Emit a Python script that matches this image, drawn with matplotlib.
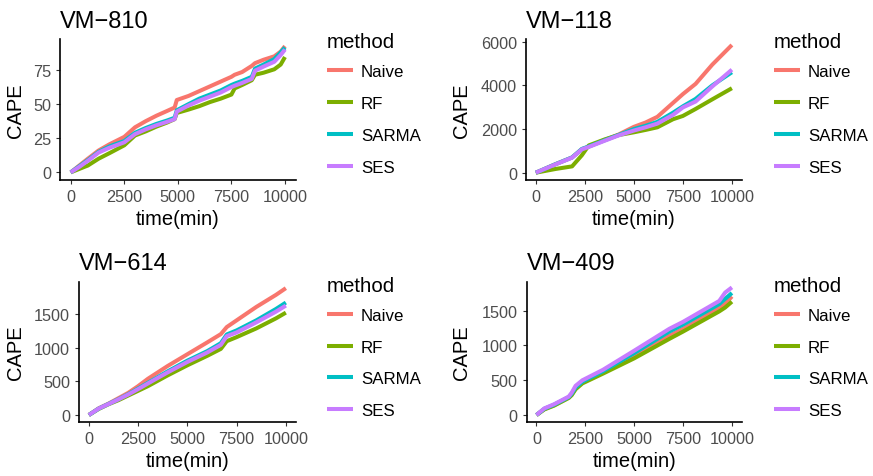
import numpy as np
import matplotlib.pyplot as plt

plt.rcParams['font.family'] = ['Liberation Sans', 'DejaVu Sans']

# ---- data ----
methods = ['Naive', 'RF', 'SARMA', 'SES']
colors = ['#F8766D', '#7CAE00', '#00BFC4', '#C77CFF']
time_ticks = [0, 2500, 5000, 7500, 10000]

# VM-810
t_810 = [0, 400, 800, 1300, 1800, 2500, 3000, 3500, 4000, 4500, 4850, 4950, 5500,
         6000, 6500, 7000, 7500, 7650, 8000, 8450, 8600, 9000, 9500, 9800, 10000]
naive_810 = [0, 5, 10, 16, 20.5, 26, 33, 37.5, 41.5, 45, 47.5, 53, 56,
             59.5, 63, 66.5, 70, 71.5, 73.5, 78, 80, 82.5, 85, 88.5, 92.5]
rf_810 = [0, 2.5, 5, 10, 14, 19.8, 27, 30, 33.5, 36.5, 39, 43.5, 46,
          48.5, 51.5, 54, 57, 61.5, 64, 67.5, 71.5, 73, 75.5, 79, 84.5]
sarma_810 = [0, 4.5, 9, 15, 19, 23, 29, 32.5, 35.5, 38, 40, 45.5, 50,
             54, 57, 60, 64, 65, 67, 70, 76, 79, 83, 88, 91.5]
ses_810 = [0, 4, 8.5, 14.5, 18, 22, 28, 31.5, 34.5, 37, 39, 44.5, 49,
           52.5, 55.5, 58.5, 62.5, 63.5, 65.5, 68.5, 74.5, 77.5, 81, 86, 90]

# VM-118
t_118 = [0, 1000, 1850, 2350, 2700, 3500, 4200, 5000, 5600, 6200, 7000, 7500, 8150, 9000, 10000]
naive_118 = [0, 390, 700, 1080, 1200, 1500, 1740, 2100, 2300, 2560, 3200, 3600, 4070, 4950, 5850]
rf_118 = [0, 170, 290, 800, 1250, 1520, 1720, 1850, 1960, 2080, 2450, 2600, 2920, 3360, 3870]
sarma_118 = [0, 390, 700, 1090, 1200, 1480, 1720, 2000, 2150, 2330, 2750, 3040, 3380, 4000, 4600]
ses_118 = [0, 380, 690, 1070, 1180, 1460, 1700, 1930, 2080, 2250, 2650, 2990, 3260, 3950, 4720]

# VM-614
t_614 = [0, 500, 1000, 1500, 2000, 2500, 3000, 4000, 5000, 6000, 6700, 7000, 7500, 8500, 9500, 10000]
naive_614 = [0, 100, 170, 250, 330, 430, 540, 730, 905, 1080, 1205, 1310, 1410, 1610, 1790, 1890]
rf_614 = [0, 90, 160, 220, 290, 360, 430, 590, 740, 880, 985, 1100, 1160, 1290, 1440, 1525]
sarma_614 = [0, 95, 165, 235, 310, 395, 480, 650, 810, 950, 1070, 1200, 1260, 1410, 1580, 1675]
ses_614 = [0, 95, 163, 232, 305, 385, 470, 635, 790, 930, 1045, 1175, 1230, 1380, 1540, 1630]

# VM-409
t_409 = [0, 400, 900, 1650, 1800, 2000, 2350, 3400, 5000, 6800, 7500, 9350, 9650, 10000]
naive_409 = [0, 85, 140, 250, 290, 380, 465, 610, 840, 1140, 1240, 1540, 1600, 1705]
rf_409 = [0, 80, 135, 245, 285, 370, 455, 595, 815, 1095, 1200, 1490, 1545, 1630]
sarma_409 = [0, 90, 148, 258, 305, 395, 480, 630, 890, 1200, 1300, 1595, 1670, 1755]
ses_409 = [0, 95, 155, 265, 320, 420, 500, 650, 925, 1240, 1340, 1640, 1760, 1835]

W, H = 873, 477
fig = plt.figure(figsize=(W / 100, H / 100), dpi=100)


def px_axes(left, top, right, bottom):
    # pixel box -> figure fraction
    return fig.add_axes([left / W, 1 - bottom / H, (right - left) / W, (bottom - top) / H])


def draw_panel(box, title, t, series, ylim, yticks, ylab_x, leg_xy):
    left, top, right, bottom = box
    ax = px_axes(*box)
    for name, col, vals in zip(methods, colors, series):
        ax.plot(t, vals, color=col, lw=2.9, label=name, solid_capstyle='butt')

    ax.set_xlim(-500, 10500)
    ax.set_ylim(*ylim)
    ax.set_xticks(time_ticks)
    ax.set_yticks(yticks)
    for s in ['top', 'right']:
        ax.spines[s].set_visible(False)
    for s in ['left', 'bottom']:
        ax.spines[s].set_linewidth(1.2)
        ax.spines[s].set_color('black')
    ax.tick_params(length=2.9, width=0.8, color='#333333', labelcolor='#4D4D4D', labelsize=11.7)
    ax.tick_params(axis='x', pad=3.5)
    ax.tick_params(axis='y', pad=3.5)

    ax.set_title(title, loc='left', fontsize=17, pad=9)
    ax.set_xlabel('time(min)', fontsize=14.5)
    ax.set_ylabel('CAPE', fontsize=14.5)
    ax.yaxis.label.set_va('center')
    ax.yaxis.set_label_coords((ylab_x - left) / (right - left), 0.5)
    ax.xaxis.set_label_coords(0.5, -29 / (bottom - top))

    leg = ax.legend(title='method', loc='upper left',
                    bbox_to_anchor=(leg_xy[0] / W, 1 - leg_xy[1] / H),
                    bbox_transform=fig.transFigure, frameon=False, fontsize=12.2,
                    title_fontsize=14.8, handlelength=1.52, handletextpad=0.49,
                    labelspacing=0.99, borderpad=0, borderaxespad=0, alignment='left')
    # gap between the legend title and the first key
    leg._legend_box.sep = 9.2
    return ax


draw_panel((60, 40, 295.7, 181), 'VM\u2212810', t_810,
           [naive_810, rf_810, sarma_810, ses_810], (-5.6, 97.7), [0, 25, 50, 75], 15, (327, 33.5))
draw_panel((526, 40, 741.7, 181), 'VM\u2212118', t_118,
           [naive_118, rf_118, sarma_118, ses_118], (-334, 6124), [0, 2000, 4000, 6000], 461, (774, 33.5))
draw_panel((79, 282.7, 295.7, 422.7), 'VM\u2212614', t_614,
           [naive_614, rf_614, sarma_614, ses_614], (-100, 1986), [0, 500, 1000, 1500], 15, (327, 277))
draw_panel((526.7, 282.7, 741.7, 422.7), 'VM\u2212409', t_409,
           [naive_409, rf_409, sarma_409, ses_409], (-96, 1917), [0, 500, 1000, 1500], 461, (774, 277))

fig.savefig('out.png', dpi=100)
